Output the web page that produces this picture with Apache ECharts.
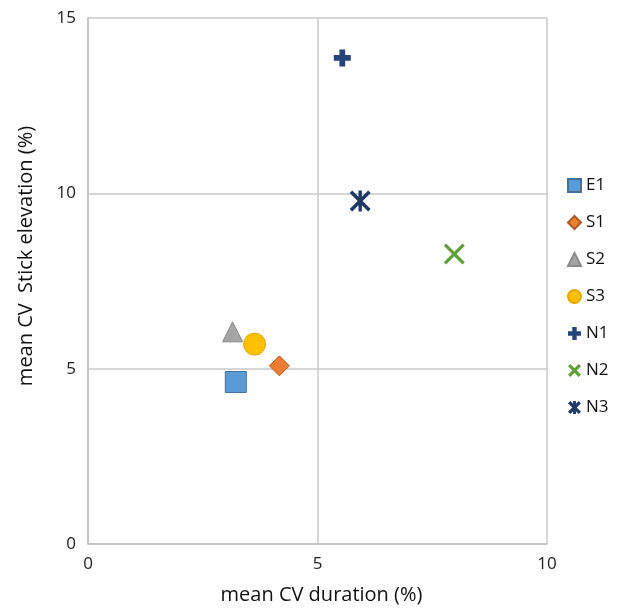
<!DOCTYPE html>
<html>
<head>
<meta charset="utf-8">
<script src="https://cdn.jsdelivr.net/npm/echarts@6/dist/echarts.min.js"></script>
<style>html,body{margin:0;padding:0;background:#fff;}#c{width:617px;height:611px;}</style>
</head>
<body>
<div id="c"></div>
<script>
// Data
const seriesNames = ['E1', 'S1', 'S2', 'S3', 'N1', 'N2', 'N3'];
const durationCV = [3.22, 4.17, 3.15, 3.63, 5.54, 7.98, 5.93];   // x: mean CV duration (%)
const elevationCV = [4.62, 5.08, 6.05, 5.70, 13.86, 8.27, 9.78]; // y: mean CV Stick elevation (%)
const xTicks = [0, 5, 10];
const yTicks = [0, 5, 10, 15];

const PLUS = 'path://M3.3,0 H6.7 V3.3 H10 V6.7 H6.7 V10 H3.3 V6.7 H0 V3.3 H3.3 Z';
const CROSS = 'path://M0,1.1 L1.1,0 L10,8.9 L8.9,10 Z M8.9,0 L10,1.1 L1.1,10 L0,8.9 Z';
const ASTER = 'path://M0,1.2 L1.2,0 L10,8.8 L8.8,10 Z M8.8,0 L10,1.2 L1.2,10 L0,8.8 Z M4.2,0 H5.8 V10 H4.2 Z';
const CROSS_L = 'path://M0,1.8 L1.8,0 L10,8.2 L8.2,10 Z M8.2,0 L10,1.8 L1.8,10 L0,8.2 Z';
const ASTER_L = 'path://M0,1.8 L1.8,0 L10,8.2 L8.2,10 Z M8.2,0 L10,1.8 L1.8,10 L0,8.2 Z M3.9,0 H6.1 V10 H3.9 Z';

const styles = {
  E1: {symbol: 'rect', size: 21, color: '#5B9BD5', border: '#41719C', legendIcon: 'rect'},
  S1: {symbol: 'diamond', size: 20, color: '#ED7D31', border: '#AE5A21', legendIcon: 'diamond'},
  S2: {symbol: 'triangle', size: 20, color: '#A5A5A5', border: '#8A8A8A', legendIcon: 'triangle'},
  S3: {symbol: 'circle', size: 22, color: '#FFC000', border: '#E0A800', legendIcon: 'circle'},
  N1: {symbol: PLUS, size: 17, color: '#264478', border: '#264478', legendIcon: PLUS},
  N2: {symbol: CROSS, size: 21, color: '#5FA03A', border: '#5FA03A', legendIcon: CROSS_L},
  N3: {symbol: ASTER, size: 21, color: '#1F3864', border: '#1F3864', legendIcon: ASTER_L}
};

const font = 'Open Sans';
const chart = echarts.init(document.getElementById('c'));
const series = seriesNames.map((n, i) => ({
  name: n,
  type: 'scatter',
  data: [[durationCV[i], elevationCV[i]]],
  symbol: styles[n].symbol,
  symbolSize: styles[n].size,
  itemStyle: {color: styles[n].color, borderColor: styles[n].border, borderWidth: (n[0] === 'N') ? 0 : 1, opacity: 1},
  z: 3
}));

chart.setOption({
  animation: false,
  backgroundColor: '#fff',
  grid: {left: 88, right: 70, top: 18, bottom: 67},
  legend: {
    orient: 'vertical', left: 562, top: 172,
    itemWidth: 13, itemHeight: 13, itemGap: 20,
    textStyle: {fontFamily: font, fontSize: 17, color: '#111'},
    data: seriesNames.map(n => ({name: n, icon: styles[n].legendIcon, itemStyle: {opacity: 1}}))
  },
  xAxis: {
    type: 'value', min: 0, max: 10, interval: 5,
    name: 'mean CV duration (%)', nameLocation: 'middle', nameGap: 41,
    nameTextStyle: {fontFamily: font, fontSize: 20, color: '#111', padding: [0, 0, 0, 8]},
    axisLine: {show: true, lineStyle: {color: '#BFBFBF', width: 1.5}},
    axisTick: {show: false},
    axisLabel: {fontFamily: font, fontSize: 17, color: '#222', margin: 12,
      formatter: v => xTicks.includes(v) ? String(v) : ''},
    splitLine: {show: true, lineStyle: {color: '#C8C8C8', width: 1.5}}
  },
  yAxis: {
    type: 'value', min: 0, max: 15, interval: 5,
    name: 'mean CV  Stick elevation (%)', nameLocation: 'middle', nameGap: 52,
    nameTextStyle: {fontFamily: font, fontSize: 20, color: '#111', padding: [0, 0, 0, 50]},
    axisLine: {show: true, lineStyle: {color: '#BFBFBF', width: 1.5}},
    axisTick: {show: false},
    axisLabel: {fontFamily: font, fontSize: 17, color: '#222', margin: 12,
      formatter: v => yTicks.includes(v) ? String(v) : ''},
    splitLine: {show: true, lineStyle: {color: '#C8C8C8', width: 1.5}}
  },
  series: series
});
</script>
</body>
</html>
